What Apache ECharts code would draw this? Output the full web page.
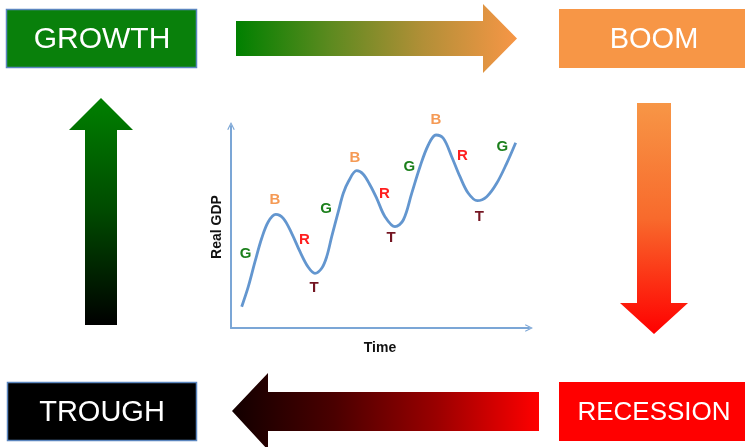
<!DOCTYPE html>
<html>
<head>
<meta charset="utf-8">
<title>Business Cycle</title>
<script src="https://cdn.jsdelivr.net/npm/echarts@6/dist/echarts.min.js"></script>
<style>
  html, body { margin: 0; padding: 0; background: #ffffff; }
  #chart { width: 745px; height: 447px; }
</style>
</head>
<body>
<div id="chart"></div>
<script>
// Real GDP path over time (arbitrary units)
const timeValues = [10.7, 17.3, 24, 30.7, 37.3, 44.7, 52.3, 60.7, 69, 77.3, 84, 90.7, 95.7, 100.7, 107.3, 112.3, 117.3, 125.7, 132, 139, 145.7, 154, 164, 172.3, 180.7, 189, 197.3, 205, 212.3, 220.7, 229, 237.3, 246.3, 255.7, 265.7, 275.7, 284.7];
const gdpValues = [21.3, 41.3, 66.3, 89.7, 106.3, 113.7, 109.7, 94.7, 76.3, 60.7, 54.7, 59.7, 71.3, 91.3, 116.3, 134.7, 146.3, 157.3, 154, 143, 129.7, 111.3, 101.3, 108, 134.7, 161.3, 183, 193, 189.7, 171.3, 151.3, 134.7, 127.3, 131.3, 144.7, 164.7, 185.3];

// Phase letters placed along the path
const phaseLetters = ['G', 'B', 'R', 'T', 'G', 'B', 'R', 'T', 'G', 'B', 'R', 'T', 'G'];
const phaseTimes = [14.7, 44, 73.3, 83, 95, 124, 153.3, 160, 178.3, 205, 231.3, 248.3, 271.3];
const phaseGdp = [74, 128, 88, 40.3, 118.7, 169.7, 134, 89.7, 160.7, 208, 172, 110.7, 181.3];

// Cycle stage names
const stageNames = ['GROWTH', 'BOOM', 'RECESSION', 'TROUGH'];

const phaseColors = { G: '#1b7f1b', B: '#f59a55', R: '#ff1f1f', T: '#741522' };

const chart = echarts.init(document.getElementById('chart'), null, { renderer: 'canvas' });

const lin = (x1, y1, x2, y2, stops) =>
  new echarts.graphic.LinearGradient(x1, y1, x2, y2, stops.map((c, i) => ({ offset: i / (stops.length - 1), color: c })));

const boxText = (text, cx, cy, size) => ({
  type: 'text',
  x: cx, y: cy,
  style: {
    text: text,
    fill: '#ffffff',
    font: 'normal ' + size + 'px "Liberation Sans", Arial, sans-serif',
    align: 'center',
    verticalAlign: 'middle'
  },
  z: 10
});

const axisArrow = 'path://M0,10 L5,0 L10,10 L8.6,10.6 L5,3 L1.4,10.6 Z';
const nameFont = { fontFamily: '"Liberation Sans", Arial, sans-serif', fontWeight: 'bold', fontSize: 14, color: '#111' };

chart.setOption({
  animation: false,
  grid: { left: 231, top: 126, right: 216, bottom: 119 },
  xAxis: {
    type: 'value', min: 0, max: 298,
    name: 'Time', nameLocation: 'middle', nameGap: 13,
    nameTextStyle: nameFont,
    axisLine: { show: true, lineStyle: { color: '#7ba6d6', width: 2 }, symbol: ['none', axisArrow], symbolSize: [10, 8] },
    axisTick: { show: false }, axisLabel: { show: false }, splitLine: { show: false }
  },
  yAxis: {
    type: 'value', min: 0, max: 202,
    name: 'Real GDP', nameLocation: 'middle', nameGap: 7,
    nameTextStyle: nameFont,
    axisLine: { show: true, lineStyle: { color: '#7ba6d6', width: 2 }, symbol: ['none', axisArrow], symbolSize: [10, 8] },
    axisTick: { show: false }, axisLabel: { show: false }, splitLine: { show: false }
  },
  series: [
    {
      type: 'line',
      data: timeValues.map((t, i) => [t, gdpValues[i]]),
      smooth: 0.35,
      showSymbol: false,
      clip: false,
      lineStyle: { color: '#6396cf', width: 2.8 }
    },
    {
      type: 'scatter',
      symbolSize: 0,
      clip: false,
      itemStyle: { opacity: 1 },
      data: phaseLetters.map((p, i) => ({
        name: p,
        value: [phaseTimes[i], phaseGdp[i]],
        label: { color: phaseColors[p] }
      })),
      label: {
        show: true,
        position: 'inside',
        formatter: p => p.name,
        fontFamily: '"Liberation Sans", Arial, sans-serif',
        fontWeight: 'bold',
        fontSize: 15,
        opacity: 1,
        textBorderWidth: 0,
        textBorderColor: 'transparent'
      }
    }
  ],
  graphic: [
    // stage boxes
    { type: 'rect', shape: { x: 6.5, y: 9.5, width: 190, height: 58 }, style: { fill: '#09800b', stroke: '#5b86bf', lineWidth: 1.5 } },
    boxText(stageNames[0], 102, 40, 30),
    { type: 'rect', shape: { x: 559, y: 9, width: 190, height: 59 }, style: { fill: '#f79646' } },
    boxText(stageNames[1], 654, 40, 29),
    { type: 'rect', shape: { x: 559, y: 382, width: 190, height: 59 }, style: { fill: '#ff0000' } },
    boxText(stageNames[2], 654, 413, 26),
    { type: 'rect', shape: { x: 7.5, y: 382.5, width: 189, height: 58 }, style: { fill: '#000000', stroke: '#5b86bf', lineWidth: 1.5 } },
    boxText(stageNames[3], 102, 413, 29),

    // growth -> boom
    { type: 'polygon',
      shape: { points: [[236, 21], [483, 21], [483, 4], [517, 38.5], [483, 73], [483, 56], [236, 56]] },
      style: { fill: lin(0, 0, 1, 0, ['#008000', '#5c8a1f', '#b28f37', '#f79646']) } },
    // boom -> recession
    { type: 'polygon',
      shape: { points: [[637, 103], [671, 103], [671, 303], [688, 303], [654, 334], [620, 303], [637, 303]] },
      style: { fill: lin(0, 0, 0, 1, ['#f79646', '#f86a2c', '#ff0000']) } },
    // recession -> trough
    { type: 'polygon',
      shape: { points: [[539, 392], [539, 431], [268, 431], [268, 450], [232, 411], [268, 373], [268, 392]] },
      style: { fill: lin(0, 0, 1, 0, ['#120000', '#4a0000', '#9a0000', '#ff0000']) } },
    // trough -> growth
    { type: 'polygon',
      shape: { points: [[101, 98], [133, 130], [117, 130], [117, 325], [85, 325], [85, 130], [69, 130]] },
      style: { fill: lin(0, 0, 0, 1, ['#008000', '#004a00', '#000000']) } }
  ]
});
</script>
</body>
</html>
